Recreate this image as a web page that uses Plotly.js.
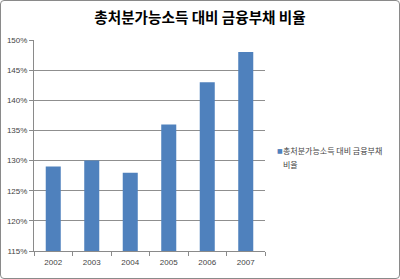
<!DOCTYPE html>
<html><head><meta charset="utf-8">
<script src="https://cdn.plot.ly/plotly-3.0.1.min.js"></script>
<style>
body{margin:0;background:#fff}
#wrap{position:relative;width:400px;height:279px}
#chart{width:400px;height:279px}
#frame{position:absolute;left:0;top:0;width:398px;height:277px;border:1px solid #8a8a8a;border-radius:4px;pointer-events:none}
</style>
</head><body>
<div id="wrap"><div id="chart"></div><div id="frame"></div></div>
<script>
const years = ['2002','2003','2004','2005','2006','2007'];
const ratios = [1.29, 1.30, 1.28, 1.36, 1.43, 1.48];
const seriesName = '총처분가능소득 대비 금융부채<br>비율';
const chartTitle = '총처분가능소득 대비 금융부채 비율';
const yTicks = [1.15,1.20,1.25,1.30,1.35,1.40,1.45,1.50];
const barColor = '#4F81BD';

const nameLines = seriesName.split('<br>');
const legendAnns = nameLines.map((t, i) => ({
  xref:'paper', yref:'paper', x:(281-34)/231, y:(251-(150 + i*14))/211, xanchor:'left', yanchor:'middle', align:'left', showarrow:false,
  text:t, font:{family:'Noto Sans CJK KR', size:8, color:'#444'}
}));

Plotly.newPlot('chart', [{
  type:'bar', x:years, y:ratios, name:seriesName,
  marker:{color:barColor}, showlegend:false
}], {
  width:400, height:279,
  margin:{l:34,r:135,t:40,b:28,autoexpand:false},
  paper_bgcolor:'rgba(0,0,0,0)', plot_bgcolor:'#fff',
  title:{text:chartTitle, font:{family:'Noto Sans CJK KR', size:14.6, color:'#000', weight:'bold'}, x:0.5, xanchor:'center', xref:'container', y:0.935, yanchor:'middle', yref:'container'},
  bargap:0.61,
  xaxis:{type:'category', showgrid:false, showline:true, linecolor:'#8a8a8a', ticks:'outside', tickson:'boundaries', ticklen:4, tickcolor:'#8a8a8a',
    ticklabelstandoff:3,
    tickfont:{family:'Liberation Sans, Arial', size:8, color:'#444'}, fixedrange:true},
  yaxis:{range:[1.15,1.50], tickvals:yTicks, tickformat:'.0%', showgrid:true, gridcolor:'#8f8f8f', gridwidth:1,
    showline:true, linecolor:'#8a8a8a', ticks:'outside', ticklen:4, tickcolor:'#8a8a8a', zeroline:false,
    tickfont:{family:'Liberation Sans, Arial', size:8, color:'#444'}, fixedrange:true},
  annotations:[
    {xref:'paper', yref:'paper', x:(275-34)/231, y:(251-150)/211, xanchor:'left', yanchor:'middle', showarrow:false,
     text:'<span style="color:'+barColor+'">■</span>', font:{family:'DejaVu Sans', size:6}}
  ].concat(legendAnns)
}, {displayModeBar:false, staticPlot:true});
</script>
</body></html>
